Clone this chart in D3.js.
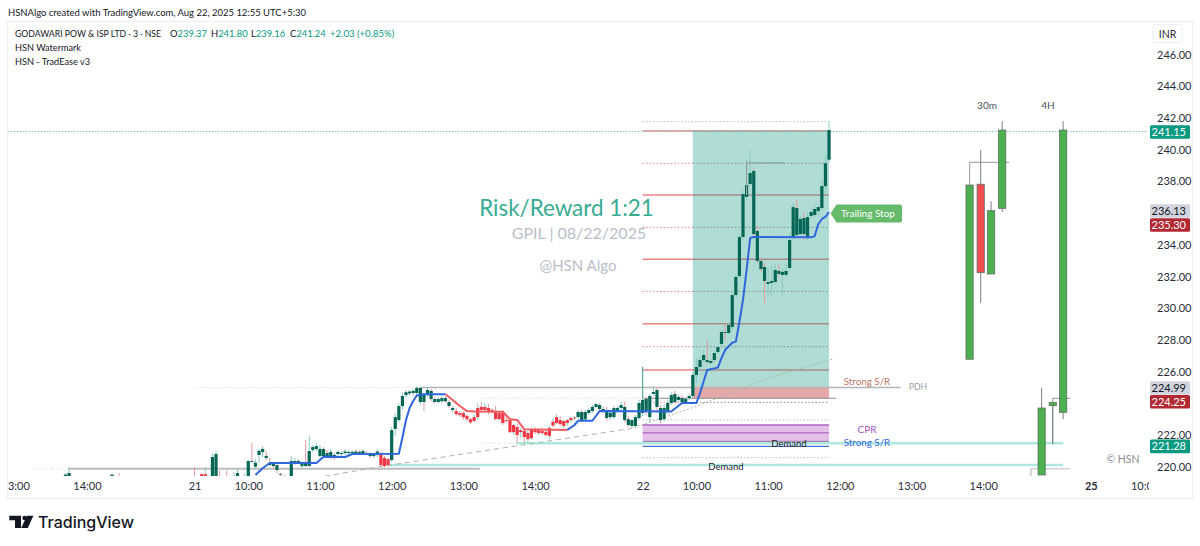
<!DOCTYPE html>
<html>
<head>
<meta charset="utf-8">
<title>GPIL 3m chart</title>
<script src="https://cdnjs.cloudflare.com/ajax/libs/d3/7.8.5/d3.min.js"></script>
<style>
html, body { margin: 0; background: #fff; }
svg { display: block; }
text { font-family: Lato, "Open Sans", sans-serif; }
</style>
</head>
<body>
<svg width="1200" height="546"></svg>
<script>

// price ticks and session ticks (x is a running bar number, 3 min per bar, 21 Aug 09:15 = 0)
// 224 and 236 sit behind the price badges so they are left out
var priceTicks = [220, 222, 226, 228, 230, 232, 234, 238, 240, 242, 244, 246];
var timeTickBars = [-50, -30, 0, 15, 35, 55, 75, 95, 125, 140, 160, 180, 200, 220, 250, 265];
var timeTickLabels = ["13:00", "14:00", "21", "10:00", "11:00", "12:00", "13:00", "14:00", "22", "10:00", "11:00", "12:00", "13:00", "14:00", "25", "10:00"];

// the few candles of 20 Aug that reach into the pane
var aug20Bars = [-36, -35, -23, -21];
var aug20Candles = [[219.4, 219.6, 219.2, 219.5], [219.1, 219.98, 219.0, 219.6], [219.4, 219.55, 219.3, 219.5], [219.4, 219.6, 219.2, 219.3]];

// open, high, low, close
var aug21Candles = [
[219.2,219.98,219.0,219.1],[219.0,219.2,218.9,219.1],[219.53,219.6,219.0,219.1],[219.1,219.98,219.0,219.53],[219.0,219.1,218.8,218.9],
[219.16,220.86,219.0,220.61],[219.16,221.0,219.0,220.8],[219.0,219.74,218.8,218.9],[218.9,219.0,218.7,218.8],[218.9,219.74,218.7,218.8],
[218.9,219.0,218.7,218.8],[218.9,219.65,218.8,219.1],[219.1,219.85,219.0,219.6],[219.0,219.1,218.8,218.9],[219.0,219.6,218.9,219.1],
[219.2,220.4,219.0,220.36],[220.36,221.49,220.3,220.3],[220.0,220.5,219.8,220.25],[220.74,221.12,220.23,221.0],[220.93,221.31,220.6,221.12],
[220.68,221.0,220.42,220.55],[220.23,220.55,220.04,220.11],[220.17,220.3,219.9,220.04],[220.1,220.3,219.6,219.79],[219.55,219.6,219.4,219.5],
[219.4,219.48,219.1,219.2],[219.2,219.3,219.0,219.1],[219.16,220.67,219.0,220.36],[220.23,220.55,220.1,220.36],[220.27,220.5,220.2,220.36],
[220.04,220.35,219.9,220.23],[220.23,221.68,220.0,220.04],[220.04,222.0,220.0,220.99],[221.05,221.37,220.9,221.24],[221.12,221.49,221.0,221.3],
[220.67,221.37,220.55,221.12],[221.12,221.24,220.55,220.67],[220.86,221.05,220.55,220.67],[220.61,221.12,220.48,220.93],[220.74,220.86,220.42,220.55],
[220.8,221.05,220.67,220.93],[220.8,220.99,220.67,220.86],[220.86,221.12,220.74,220.96],[220.86,221.05,220.8,220.93],[220.86,221.05,220.8,220.93],
[220.96,221.1,220.8,220.86],[220.93,221.05,220.74,220.8],[220.86,221.12,220.8,220.99],[220.86,220.99,220.74,220.8],[220.8,220.9,220.55,220.67],
[220.67,220.86,220.55,220.8],[220.74,221.1,220.6,220.96],[220.74,220.93,219.98,220.1],[220.55,220.67,219.95,220.04],[220.1,220.55,219.98,220.48],
[220.42,222.5,220.3,222.31],[222.38,223.38,221.93,223.13],[222.94,224.0,222.8,223.83],[223.83,224.7,223.58,224.46],[224.52,224.84,224.33,224.7],
[224.62,224.84,224.46,224.74],[224.65,224.9,224.5,224.78],[224.65,225.09,224.46,224.97],[224.08,225.03,223.89,224.97],[224.54,224.65,223.51,224.08],
[224.59,225.0,224.4,224.84],[224.78,224.9,224.13,224.27],[224.27,224.4,224.0,224.08],[224.08,224.4,224.0,224.27],[224.13,224.46,224.0,224.33],
[224.33,224.4,224.05,224.13],[224.08,224.21,223.7,223.83],[223.58,223.83,223.4,223.7],[223.51,223.7,223.2,223.32],[223.38,223.5,223.15,223.26],
[223.38,223.5,222.95,223.13],[223.2,223.3,222.85,223.0],[222.99,223.1,222.7,222.8],[222.88,223.3,222.8,223.13],[223.13,224.0,222.94,223.7],
[223.77,224.1,223.4,223.58],[223.58,224.0,223.45,223.77],[223.7,223.95,223.3,223.45],[223.58,223.7,223.4,223.51],[223.45,223.83,222.95,223.0],
[223.0,223.5,222.9,223.38],[223.38,223.58,222.63,222.75],[222.94,223.1,222.8,222.88],[222.94,223.07,222.13,222.18],[222.18,222.7,222.0,222.63],
[222.5,222.7,221.49,222.0],[222.18,222.44,221.81,222.31],[222.25,222.38,221.49,221.87],[221.74,222.25,221.49,222.13],[221.8,222.44,221.7,222.38],
[222.31,222.5,222.05,222.18],[222.12,222.4,222.0,222.31],[222.25,222.4,222.0,222.12],[222.2,222.3,221.9,222.0],[221.94,222.56,221.74,222.44],
[222.59,223.07,222.5,222.84],[222.75,223.32,222.68,223.13],[222.94,223.2,222.55,222.69],[222.57,222.95,222.44,222.88],[222.76,223.0,222.6,222.94],
[222.94,223.15,222.8,223.07],[223.07,223.2,222.9,223.1],[223.13,223.58,223.0,223.45],[223.45,223.58,222.81,222.94],[222.99,223.58,222.88,223.45],
[223.39,223.7,223.26,223.58],[223.51,223.9,223.4,223.77],[223.77,224.05,223.7,223.95],[223.89,224.0,223.5,223.64],[223.64,223.8,223.4,223.51],
[223.51,223.77,222.94,223.07],[223.13,223.5,222.94,223.39],[223.13,223.83,223.0,223.7],[223.51,223.83,223.4,223.7],[223.7,224.08,223.6,223.89],
[223.77,224.1,222.8,222.94],[223.0,223.2,222.5,222.63],[222.57,223.0,222.44,222.94],[222.57,223.26,222.44,223.13],[223.07,224.2,222.94,224.02]
];

var aug22Candles = [
[223.39,224.4,223.2,224.21],[224.27,224.4,223.3,223.45],[223.13,224.6,222.8,224.46],[224.59,225.1,224.5,224.71],[224.84,225.03,223.4,223.77],
[223.7,223.9,222.75,222.94],[223.0,223.95,222.85,223.7],[223.45,224.2,223.3,224.02],[224.02,224.7,223.9,224.52],[224.59,224.8,224.0,224.08],
[224.21,224.55,224.1,224.4],[224.33,224.5,224.0,224.08],[224.08,224.4,224.0,224.27],[224.33,224.6,224.2,224.46],[224.46,226.0,224.3,225.79],
[225.79,226.85,225.3,226.29],[226.29,226.9,226.1,226.73],[226.73,227.35,226.6,227.05],[226.73,228.0,226.45,226.6],[226.54,226.8,226.4,226.67],
[226.73,227.3,226.6,227.17],[227.24,227.65,227.1,227.55],[227.74,228.63,227.6,228.5],[228.5,228.95,227.9,228.44],[228.44,229.1,228.3,228.94],
[228.81,230.95,228.6,230.83],[230.83,232.15,230.65,231.97],[232.03,234.7,231.9,234.49],[234.49,237.46,234.3,237.2],[237.02,239.35,236.8,237.77],
[237.84,239.98,237.7,238.53],[238.66,238.8,234.5,234.68],[234.87,235.2,232.85,232.98],[232.98,233.1,232.3,232.47],[232.6,232.85,230.33,231.72],
[231.53,232.54,230.7,231.65],[231.6,232.7,230.8,231.72],[231.65,232.79,231.52,232.41],[232.35,232.79,232.0,232.16],[232.1,232.54,230.7,232.29],
[232.1,232.79,231.97,232.35],[232.54,234.8,232.4,234.3],[234.49,236.63,234.3,236.38],[236.32,236.83,234.5,234.62],[234.68,235.82,234.55,235.63],
[235.69,236.08,234.3,234.68],[234.49,236.08,234.3,235.75],[235.82,236.33,235.7,236.07],[235.88,236.5,235.75,236.26],[236.13,236.5,235.75,236.38],
[236.32,238.1,236.2,237.7],[237.7,239.67,237.25,239.15],[239.37,241.8,239.16,241.24]
];

// stretches of bars painted red by the indicator
var redBarRuns = [[2, 3], [52, 54], [73, 106]];

// trailing stop line: bar number, price
var trailBlueBars1 = [17, 19, 21, 34, 36, 42, 44, 57, 58, 59, 60, 61, 62, 64, 70];
var trailBluePrices1 = [219.48, 219.9, 220.23, 220.23, 220.63, 220.61, 220.8, 220.82, 221.84, 222.95, 223.7, 224.14, 224.49, 224.57, 224.57];
var trailRedBars = [70, 72, 74, 76, 78, 86, 88, 90, 92, 104];
var trailRedPrices = [224.57, 224.21, 223.83, 223.51, 223.48, 223.47, 222.99, 222.95, 222.36, 222.32];
var trailBlueBars2 = [104, 106, 107, 111, 113, 133, 136, 140, 141, 143, 146, 147, 148, 150, 151, 152, 153, 154, 155, 156, 172, 173, 174, 175, 176, 177];
var trailBluePrices2 = [222.32, 222.63, 222.9, 222.9, 223.51, 223.48, 224.02, 224.02, 224.63, 226.1, 226.25, 226.86, 227.36, 227.82, 227.89, 229.13, 230.52, 232.41, 234.43, 234.49, 234.47, 234.55, 235.31, 235.63, 235.76, 236.07];

// rising trend line under the lows
var trendBars = [36.4, 53.1, 121.5];
var trendPrices = [219.4, 220.05, 222.4];
var trendBars2 = [121.5, 138.2, 160.5, 178.1];
var trendPrices2 = [222.4, 223.66, 225.62, 226.8];

// risk/reward block
var rewardBars = [139, 177];
var rewardPrices = [241.18, 225.05];
var riskPrices = [225.05, 224.32];
var levelBars = [125, 177];
var targetLevels = [241.18, 237.14, 233.09, 229.02, 226.1];
var midLevels = [239.14, 235.1, 231.06, 227.57, 224.06];
var outerLevels = [241.77, 222.95, 220.57];
var cprLevels = [222.63, 222.13, 221.6];

// long horizontal zones
var zoneLevel1 = 221.48, zoneLevel1Bars = [89.7, 242.3];
var zoneLevel2 = 220.11, zoneLevel2Bars = [54.5, 242.3];
var srBlueLevel = 221.28;
var pdhLevel = 224.99, pdhDottedBars = [0, 63], pdhSolidBars = [63, 197];
var oldLevel = 219.87, oldDottedBars = [-45.3, -35.3], oldSolidBars = [-35.3, 79.6];
var paleDashes = [[79.6, 125, 224.32], [79.6, 89.7, 221.48], [155, 165, 239.98], [165, 176, 236.83], [160, 175, 232.15], [156, 165, 230.33], [145, 154, 226.73]];

// higher timeframe candles on the right
var htfBars = [216.2, 219.3, 222.2, 225.3, 236.3, 239.4, 242.3];
var htfOpen = [226.78, 237.82, 232.16, 236.3, 219.48, 223.85, 223.43];
var htfHigh = [237.77, 239.98, 236.76, 241.8, 224.98, 224.06, 241.8];
var htfLow = [226.78, 230.33, 232.16, 236.07, 219.48, 221.43, 222.99];
var htfClose = [237.77, 232.24, 236.15, 241.24, 223.7, 224.06, 241.24];
// open range brackets: first bar, last bar, price
var htfBrackets = [[216.2, 227.2, 239.2], [239.4, 244.3, 224.31], [233.3, 244.3, 219.87]];
var innerBracket = [154, 164.7, 239.17];

// price badges
var badgeValues = [241.15, 236.13, 235.3, 224.99, 224.25, 221.28];
var badgeKinds = ["teal", "grey", "red", "grey", "red", "teal"];

var lastPrice = 241.15;

var svg = d3.select("svg");
var x = d3.scaleLinear().domain([0, 100]).range([194.5, 553]);
var y = d3.scaleLinear().domain([220, 242]).range([466.7, 118]);

var defs = svg.append("defs");
defs.append("clipPath").attr("id", "pane").append("rect").attr("x", 8).attr("y", 22).attr("width", 1140).attr("height", 454);
defs.append("clipPath").attr("id", "timeclip").append("rect").attr("x", 8).attr("y", 476).attr("width", 1141).attr("height", 22);

// frame
svg.append("path").attr("d", "M7.5 498.5V21.5H1192.5V498.5Z").attr("fill", "none").attr("stroke", "#eeeff2");

var pane = svg.append("g").attr("clip-path", "url(#pane)");

function hline(g, a, b, p, color, w, dash) {
  return g.append("line").attr("x1", x(a)).attr("x2", x(b)).attr("y1", y(p)).attr("y2", y(p))
    .attr("stroke", color).attr("stroke-width", w).attr("stroke-dasharray", dash || null);
}

// reward / risk areas
pane.append("rect").attr("x", x(rewardBars[0])).attr("width", x(rewardBars[1]) - x(rewardBars[0]))
  .attr("y", y(rewardPrices[0])).attr("height", y(rewardPrices[1]) - y(rewardPrices[0])).attr("fill", "#afddd5");
pane.append("rect").attr("x", x(rewardBars[0])).attr("width", x(rewardBars[1]) - x(rewardBars[0]))
  .attr("y", y(riskPrices[0])).attr("height", y(riskPrices[1]) - y(riskPrices[0])).attr("fill", "#e6a9aa");

// cpr band
pane.append("rect").attr("x", x(levelBars[0])).attr("width", x(levelBars[1]) - x(levelBars[0]))
  .attr("y", y(cprLevels[0])).attr("height", y(cprLevels[2]) - y(cprLevels[0])).attr("fill", "#e4c0e9");
cprLevels.forEach(function(p, k) {
  hline(pane, levelBars[0], levelBars[1], p, k == 2 ? "#a58bb0" : "#b160c6", 1.3);
});

// long zones
hline(pane, zoneLevel1Bars[0], zoneLevel1Bars[1], zoneLevel1, "#ade7e0", 2.6);
hline(pane, zoneLevel2Bars[0], zoneLevel2Bars[1], zoneLevel2, "#ade7e0", 2.6);
hline(pane, levelBars[0], levelBars[1], srBlueLevel, "#4472da", 1.4);
hline(pane, pdhDottedBars[0], pdhDottedBars[1], pdhLevel, "#d6d6d6", 1, "1,2");
hline(pane, pdhSolidBars[0], pdhSolidBars[1], pdhLevel, "#b4b4b4", 1.5);
hline(pane, oldDottedBars[0], oldDottedBars[1], oldLevel, "#d6d6d6", 1, "1,2");
hline(pane, oldSolidBars[0], oldSolidBars[1], oldLevel, "#bdbdbd", 2);
paleDashes.forEach(function(d) { hline(pane, d[0], d[1], d[2], "#cfd4d4", 1, "1,2"); });

// target levels, darker where they cross the green block
targetLevels.forEach(function(p) {
  hline(pane, levelBars[0], rewardBars[0], p, "#ec8484", 1.4);
  hline(pane, rewardBars[0], levelBars[1], p, "#a98b86", 1.4);
});
midLevels.forEach(function(p) {
  hline(pane, levelBars[0], rewardBars[0], p, "#ec8484", 1, "1.5,2");
  hline(pane, rewardBars[0], levelBars[1], p, "#7f8f8b", 1, "1.5,2");
});
outerLevels.forEach(function(p) { hline(pane, levelBars[0], levelBars[1], p, "#b9bdbd", 1, "1.5,2"); });
hline(pane, levelBars[0], levelBars[1] + 2, riskPrices[1], "#8b8b8b", 1.2);
pane.append("line").attr("x1", x(125)).attr("x2", x(125)).attr("y1", y(226.29)).attr("y2", y(223.39)).attr("stroke", "#58a89a").attr("stroke-width", 1.2);

// trend line
var trendLine = d3.line().x(function(d) { return x(d[0]); }).y(function(d) { return y(d[1]); });
pane.append("path").attr("d", trendLine(d3.zip(trendBars, trendPrices))).attr("fill", "none").attr("stroke", "#a9b4a4").attr("stroke-width", 1).attr("stroke-dasharray", "5,4");
pane.append("path").attr("d", trendLine(d3.zip(trendBars2, trendPrices2))).attr("fill", "none").attr("stroke", "#a9b4a4").attr("stroke-width", 1).attr("stroke-dasharray", "2,2");

// last price line
pane.append("line").attr("x1", 8).attr("x2", 1148).attr("y1", y(lastPrice)).attr("y2", y(lastPrice))
  .attr("stroke", "#86c5b8").attr("stroke-width", 1).attr("stroke-dasharray", "1.5,1.5");

// candles
var candles = [];
aug20Candles.forEach(function(d, k) { candles.push({ bar: aug20Bars[k], o: d[0], h: d[1], l: d[2], c: d[3] }); });
aug21Candles.forEach(function(d, k) { candles.push({ bar: k, o: d[0], h: d[1], l: d[2], c: d[3] }); });
aug22Candles.forEach(function(d, k) { candles.push({ bar: 125 + k, o: d[0], h: d[1], l: d[2], c: d[3] }); });

function isRed(bar) {
  return redBarRuns.some(function(r) { return bar >= r[0] && bar <= r[1]; });
}

var cg = pane.append("g");
cg.selectAll("line").data(candles).enter().append("line")
  .attr("x1", function(d) { return x(d.bar); })
  .attr("x2", function(d) { return x(d.bar); })
  .attr("y1", function(d) { return y(d.h); })
  .attr("y2", function(d) { return y(d.l); })
  .attr("stroke", function(d) { return d.c >= d.o ? "#8ccabd" : "#e79aa0"; })
  .attr("stroke-width", 1);
cg.selectAll("rect").data(candles).enter().append("rect")
  .attr("x", function(d) { return x(d.bar) - 1.6; })
  .attr("width", 3.2)
  .attr("y", function(d) { return y(Math.max(d.o, d.c)); })
  .attr("height", function(d) { return Math.max(0.8, Math.abs(y(d.o) - y(d.c))); })
  .attr("fill", function(d) { return isRed(d.bar) ? "#f23645" : "#056656"; });

// trailing stop
function trailPath(bars, prices, color) {
  pane.append("path").attr("d", trendLine(d3.zip(bars, prices))).attr("fill", "none")
    .attr("stroke", color).attr("stroke-width", 2).attr("stroke-linejoin", "round");
}
trailPath(trailBlueBars1, trailBluePrices1, "#2f66de");
trailPath(trailRedBars, trailRedPrices, "#f25c60");
trailPath(trailBlueBars2, trailBluePrices2, "#2f66de");

// right hand candles
var htf = htfBars.map(function(b, k) { return { bar: b, o: htfOpen[k], h: htfHigh[k], l: htfLow[k], c: htfClose[k] }; });
htfBrackets.concat([innerBracket]).forEach(function(d, k) {
  pane.append("path")
    .attr("d", "M" + x(d[0]) + " " + y(k == 1 ? htfLow[5] : k == 0 ? htfClose[0] : k == 3 ? 237.14 : 219.4) + "V" + y(d[2]) + "H" + x(d[1]))
    .attr("fill", "none").attr("stroke", k == 3 ? "#8fa39c" : k == 2 ? "#bdbdbd" : "#a7adab").attr("stroke-width", 1.2);
});
var hg = pane.append("g");
hg.selectAll("line").data(htf).enter().append("line")
  .attr("x1", function(d) { return x(d.bar); })
  .attr("x2", function(d) { return x(d.bar); })
  .attr("y1", function(d) { return y(d.h); })
  .attr("y2", function(d) { return y(d.l); })
  .attr("stroke", "#7b8480").attr("stroke-width", 1);
hg.selectAll("rect").data(htf).enter().append("rect")
  .attr("x", function(d) { return x(d.bar) - 3.6; })
  .attr("width", 7.2)
  .attr("y", function(d) { return y(Math.max(d.o, d.c)); })
  .attr("height", function(d) { return Math.abs(y(d.o) - y(d.c)); })
  .attr("fill", function(d) { return d.c >= d.o ? "#4caf50" : "#f44c4f"; })
  .attr("stroke", "#5f6d63").attr("stroke-width", 0.8);

// trailing stop tag
var tagY = y(trailBluePrices2[trailBluePrices2.length - 1]) + 1.5;
var tagX = x(177) + 1.5;
svg.append("path")
  .attr("d", "M" + tagX + " " + tagY + "L" + (tagX + 6) + " " + (tagY - 9) + "H900a2 2 0 0 1 2 2V" + (tagY + 7) + "a2 2 0 0 1 -2 2H" + (tagX + 6) + "Z")
  .attr("fill", "#66bb6a");
svg.append("text").attr("x", 868).attr("y", tagY + 3.5).attr("text-anchor", "middle").attr("font-size", 10).attr("fill", "#fff").text("Trailing Stop");

// texts on the chart
function label(t, px, py, size, color, anchor, weight) {
  return svg.append("text").attr("x", px).attr("y", py).attr("font-size", size).attr("fill", color)
    .attr("text-anchor", anchor || "start").attr("font-weight", weight || null).text(t);
}
// squeezed to the width seen in the picture, the chart font is narrower than Lato
function fit(t, w) {
  return t.attr("textLength", w).attr("lengthAdjust", "spacingAndGlyphs");
}
label("Risk/Reward 1:21", 566.5, 216, 22.4, "#37ab93", "middle");
label("GPIL | 08/22/2025", 579, 238.5, 16, "#b9bec7", "middle");
label("@HSN Algo", 578, 270.5, 15, "#b9bec7", "middle");
label("Strong S/R", 867, 384.5, 9.8, "#c0745f", "middle");
label("PDH", 918, 390, 8.5, "#9a9ea6", "middle");
label("CPR", 867, 432.5, 10, "#a24fc0", "middle");
label("Demand", 789, 446.5, 9.5, "#1e222d", "middle");
label("Strong S/R", 867, 446, 9.8, "#2f66de", "middle");
label("Demand", 726, 469.5, 9.5, "#1e222d", "middle");
label("30m", 987, 108.5, 10, "#4a4f5a", "middle");
label("4H", 1048, 108.5, 10, "#4a4f5a", "middle");
label("© HSN", 1123, 463, 10.5, "#8a8e96", "middle");

// price scale
var priceAxis = d3.axisRight(y).tickValues(priceTicks).tickFormat(d3.format(".2f")).tickSize(0).tickPadding(0);
var pa = svg.append("g").attr("transform", "translate(1157,0)").call(priceAxis);
pa.select(".domain").remove();
pa.selectAll("text").attr("font-size", 11).attr("fill", "#2a2e39").style("font-family", "Lato, sans-serif");

svg.append("rect").attr("x", 1153).attr("y", 24.5).attr("width", 29).attr("height", 18).attr("rx", 2).attr("fill", "#fff").attr("stroke", "#eceef1");
label("INR", 1167.5, 37.5, 10.5, "#2a2e39", "middle");

var badgeFill = { teal: "#089981", grey: "#d1d4dc", red: "#b22833" };
var badgeText = { teal: "#fff", grey: "#131722", red: "#fff" };
badgeValues.forEach(function(v, k) {
  var kind = badgeKinds[k];
  var cy = y(v);
  if (k == 0) cy = y(lastPrice) + 0.5;
  if (k == 1) cy = 211;
  if (k == 2) cy = 225;
  if (k == 3) cy = 388;
  if (k == 4) cy = 401.7;
  svg.append("rect").attr("x", 1150).attr("y", cy - 6.8).attr("width", 40).attr("height", 13.6).attr("rx", 1.5).attr("fill", badgeFill[kind]);
  label(d3.format(".2f")(v), 1186, cy + 3.8, 11, badgeText[kind], "end");
});

// time scale
var timeAxis = d3.axisBottom(x).tickValues(timeTickBars).tickFormat(function(d, k) { return timeTickLabels[k]; }).tickSize(0).tickPadding(0);
var ta = svg.append("g").attr("clip-path", "url(#timeclip)").append("g").attr("transform", "translate(0,482)").call(timeAxis);
ta.select(".domain").remove();
ta.selectAll("text").attr("font-size", 11).attr("fill", "#2a2e39").style("font-family", "Lato, sans-serif")
  .attr("font-weight", function(d, k) { return timeTickLabels[k] == "25" ? 700 : 400; });

// header and legend
fit(label("HSNAlgo created with TradingView.com, Aug 22, 2025 12:55 UTC+5:30", 8, 16, 10.4, "#131722"), 298);
fit(label("GODAWARI POW & ISP LTD · 3 · NSE", 15, 37, 8.8, "#131722"), 146);
var legendLetters = ["O", "H", "L", "C"];
var legendValues = ["239.37", "241.80", "239.16", "241.24"];
var legendX = [170, 211, 251, 290];
legendLetters.forEach(function(l, k) {
  var t = label("", legendX[k], 37, 9.4, "#131722");
  t.append("tspan").text(l);
  t.append("tspan").attr("fill", "#089981").text(legendValues[k]);
});
label("+2.03 (+0.85%)", 330, 37, 9.6, "#089981");
fit(label("HSN Watermark", 15, 51, 9.6, "#131722"), 66);
fit(label("HSN - TradEase v3", 15, 65, 9.6, "#131722"), 75);

// TradingView mark
svg.append("path").attr("d", "M9.3 515.7H21V528H15V520.2H9.3Z").attr("fill", "#131722");
svg.append("circle").attr("cx", 24.6).attr("cy", 518).attr("r", 2.3).attr("fill", "#131722");
svg.append("path").attr("d", "M33.4 515.7L27.8 528H21.2L26.9 515.7Z").attr("fill", "#131722");
svg.append("text").attr("x", 38).attr("y", 528).attr("font-size", 16).attr("font-weight", 500).attr("fill", "#131722").style("font-family", "Inter, sans-serif").text("TradingView");

</script>
</body>
</html>
